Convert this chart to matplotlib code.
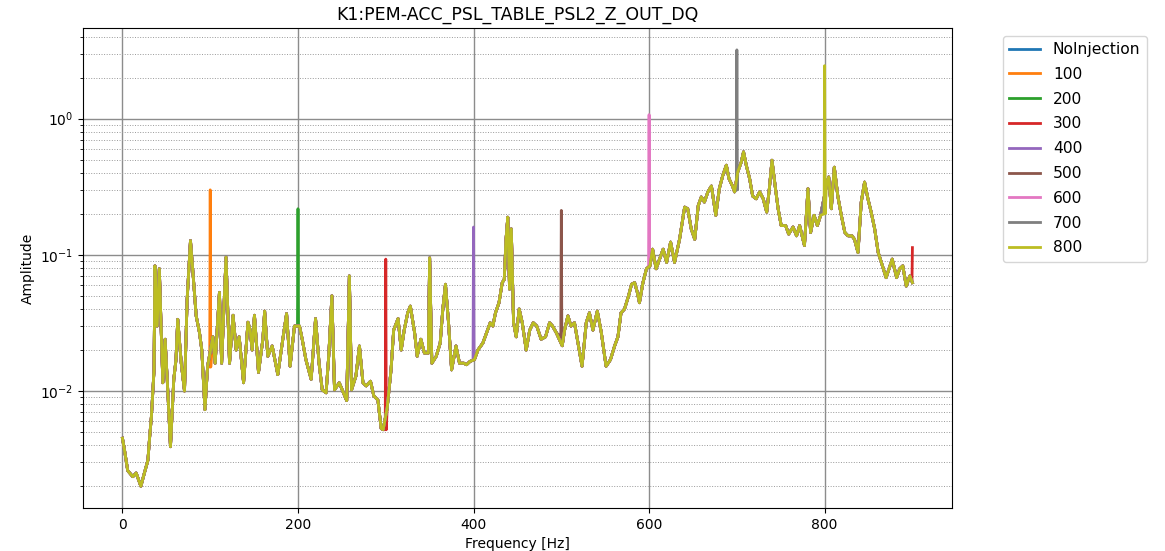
import matplotlib
matplotlib.use("Agg")
import matplotlib.pyplot as plt

# Frequency axis [Hz] and the common background spectrum shared by all runs
freq = [0, 2.3, 6, 11.8, 15.6, 21, 25, 29, 31, 33, 36, 37, 39.5, 42, 46, 48.6,
        51.6, 54.7, 58.5, 61, 63, 67, 70.7, 73.7, 77.5, 80, 84, 87.7, 90.4, 94,
        97, 103, 105.6, 110.5, 113, 118, 122, 126, 129.6, 133, 138, 143, 145.5,
        147.8, 150.4, 155, 160, 162, 165.6, 170.6, 177, 182.7, 187, 191, 196,
        201.7, 204.8, 209, 215, 220, 224, 227.6, 232, 235, 238.6, 241.6, 247,
        255.5, 258.5, 261, 266, 270, 274, 277.7, 282.6, 286.4, 291, 294.8, 297,
        301.6, 306, 309, 314, 317.6, 321, 325, 328, 332.8, 335.8, 340, 344,
        348.5, 350, 352.5, 357.5, 362, 365, 368, 371.5, 375, 380, 384, 389, 392,
        396, 401, 405, 410.6, 416, 419, 422, 425, 429, 432.7, 435, 437, 439,
        441, 443, 445.6, 448.6, 452, 455.5, 460, 464, 468, 472, 477, 482, 486.6,
        490, 494, 501, 503.7, 507.5, 511, 515, 519, 523.6, 528.4, 532, 536, 541,
        545.5, 551, 556, 560.7, 564.5, 568, 572, 576.6, 580, 583.5, 586.6, 589,
        593, 597, 601, 604, 608, 612, 616, 620, 624.5, 629, 634.7, 640.5, 644,
        648, 652, 656, 659.5, 663, 667, 671, 676, 680, 684, 688, 691, 695,
        697.4, 701, 705, 707.6, 710.7, 714.5, 718, 722, 726, 730, 734, 737, 740,
        744, 747, 750.5, 755.6, 759, 764, 768, 771.5, 777, 781, 784, 788, 791.7,
        795.4, 802, 804.6, 807.6, 811, 815, 819, 823, 826.6, 831, 834, 838,
        841.7, 845.5, 849.3, 853, 857, 861, 864.6, 870, 877, 882, 885.5, 889,
        893, 897, 900]

background = [0.0045, 0.0037, 0.0026, 0.00235, 0.0025, 0.0020, 0.0025, 0.0031,
              0.0046, 0.0065, 0.0143, 0.083, 0.030, 0.079, 0.0115, 0.024,
              0.0102, 0.0039, 0.0122, 0.017, 0.0336, 0.016, 0.010, 0.047, 0.127,
              0.079, 0.0356, 0.027, 0.020, 0.0073, 0.0152, 0.025, 0.016, 0.053,
              0.016, 0.096, 0.016, 0.036, 0.020, 0.025, 0.0115, 0.032, 0.028,
              0.020, 0.036, 0.0137, 0.024, 0.0386, 0.018, 0.0214, 0.0132, 0.024,
              0.037, 0.0152, 0.030, 0.030, 0.024, 0.017, 0.0122, 0.034, 0.016,
              0.0102, 0.0097, 0.018, 0.050, 0.0102, 0.0115, 0.0085, 0.070,
              0.0102, 0.0129, 0.0214, 0.0115, 0.0109, 0.0118, 0.0092, 0.0086,
              0.0053, 0.0052, 0.0075, 0.0143, 0.028, 0.034, 0.020, 0.028, 0.0375,
              0.042, 0.027, 0.018, 0.024, 0.019, 0.019, 0.095, 0.016, 0.018,
              0.0225, 0.040, 0.0608, 0.0317, 0.0143, 0.0214, 0.016, 0.016,
              0.0156, 0.0165, 0.017, 0.020, 0.0225, 0.028, 0.0317, 0.030, 0.0375,
              0.0445, 0.0625, 0.066, 0.13, 0.189, 0.056, 0.155, 0.0317, 0.025,
              0.040, 0.0317, 0.020, 0.028, 0.0317, 0.030, 0.024, 0.025, 0.0317,
              0.030, 0.027, 0.0215, 0.028, 0.0356, 0.030, 0.0317, 0.0225, 0.0152,
              0.0317, 0.0375, 0.028, 0.0386, 0.027, 0.0152, 0.017, 0.0214, 0.025,
              0.0375, 0.040, 0.050, 0.0608, 0.0625, 0.053, 0.0445, 0.0625, 0.079,
              0.083, 0.11, 0.079, 0.093, 0.11, 0.088, 0.124, 0.088, 0.13, 0.224,
              0.218, 0.155, 0.13, 0.23, 0.266, 0.244, 0.29, 0.32, 0.195, 0.306,
              0.384, 0.455, 0.363, 0.32, 0.29, 0.406, 0.48, 0.57, 0.455, 0.363,
              0.27, 0.258, 0.29, 0.258, 0.206, 0.306, 0.495, 0.306, 0.218, 0.164,
              0.164, 0.142, 0.16, 0.138, 0.164, 0.117, 0.306, 0.146, 0.195, 0.164,
              0.195, 0.32, 0.373, 0.218, 0.44, 0.27, 0.195, 0.146, 0.138, 0.138,
              0.13, 0.104, 0.244, 0.342, 0.258, 0.206, 0.155, 0.104, 0.088, 0.068,
              0.093, 0.068, 0.079, 0.083, 0.059, 0.07, 0.0625]

labels = ["NoInjection", "100", "200", "300", "400", "500", "600", "700", "800"]

# injection lines of each run: (frequency, amplitude) points on top of the background
inj_freq = {
    "NoInjection": [],
    "100": [99.4, 100, 100.6],
    "200": [199.4, 200, 200.6],
    "300": [299.4, 300, 300.6, 899.5, 900],
    "400": [399.4, 400, 400.6],
    "500": [499.4, 500, 500.6],
    "600": [599.4, 600, 600.6],
    "700": [699.4, 700, 700.6],
    "800": [799.4, 800, 800.6],
}
inj_amp = {
    "NoInjection": [],
    "100": [0.015, 0.30, 0.015],
    "200": [0.030, 0.218, 0.030],
    "300": [0.0052, 0.093, 0.0052, 0.065, 0.113],
    "400": [0.017, 0.16, 0.017],
    "500": [0.025, 0.212, 0.025],
    "600": [0.083, 1.07, 0.083],
    "700": [0.30, 3.2, 0.30],
    "800": [0.20, 2.45, 0.20],
}


def build_series(name):
    pts = dict(zip(freq, background))
    pts.update(zip(inj_freq[name], inj_amp[name]))
    f = sorted(pts)
    return f, [pts[k] for k in f]


def main():
    plt.rcParams['font.size'] = 10
    fig = plt.figure(figsize=(11.65, 5.51), dpi=100)
    ax = fig.add_axes([0.0712, 0.078, 0.7459, 0.8711])

    for name in labels:
        f, a = build_series(name)
        ax.plot(f, a, label=name, lw=2.0)

    ax.set_yscale('log')
    ax.grid(which='major', color='0.55', lw=1.0, ls='-')
    ax.grid(which='minor', color='0.6', lw=0.7, ls=':')
    ax.set_xlabel("Frequency [Hz]")
    ax.set_ylabel("Amplitude")
    ax.set_title("K1:PEM-ACC_PSL_TABLE_PSL2_Z_OUT_DQ", fontsize=12.5)
    ax.legend(bbox_to_anchor=(1.05, 1), loc='upper left', fontsize=11.2,
              labelspacing=0.63)

    fig.savefig("out.png", dpi=100)


if __name__ == "__main__":
    main()
